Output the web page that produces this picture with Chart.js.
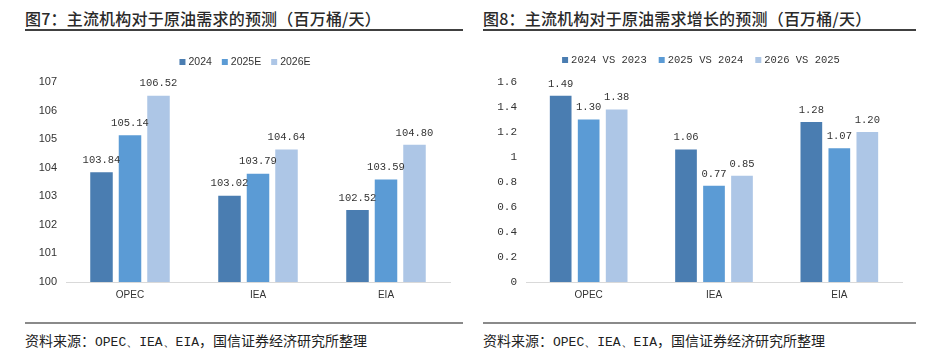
<!DOCTYPE html>
<html><head><meta charset="utf-8">
<script src="https://cdn.jsdelivr.net/npm/chart.js@4.4.1/dist/chart.umd.min.js"></script>
<style>
html,body{margin:0;padding:0;background:#fff;width:940px;height:354px;overflow:hidden;}
.title{position:absolute;top:6px;font-family:"Noto Sans CJK SC";font-weight:500;font-size:16px;color:#2a2a2a;white-space:nowrap;letter-spacing:0.2px;}
.rule{position:absolute;height:2px;background:#404040;top:29px;}
.rule2{position:absolute;height:2px;background:#8a8a8a;top:322px;}
.src{position:absolute;top:330px;font-family:"Noto Sans CJK SC";font-size:14px;color:#222;white-space:nowrap;}
.src .m{font-family:"Liberation Mono";font-size:13px;}
.wrap{position:absolute;top:38px;height:262px;}
</style></head><body>
<div class="title" style="left:25px">图7：主流机构对于原油需求的预测（百万桶/天）</div>
<div class="rule" style="left:25px;width:438px"></div>
<div class="title" style="left:483px">图8：主流机构对于原油需求增长的预测（百万桶/天）</div>
<div class="rule" style="left:483px;width:433px"></div>
<div class="wrap" style="left:25px;width:438px"><canvas id="c1" width="438" height="262"></canvas></div>
<div class="wrap" style="left:483px;width:433px"><canvas id="c2" width="433" height="262"></canvas></div>
<div class="rule2" style="left:25px;width:438px"></div>
<div class="rule2" style="left:483px;width:433px"></div>
<div class="src" style="left:25px">资料来源：<span class="m">OPEC、IEA、EIA</span>，国信证券经济研究所整理</div>
<div class="src" style="left:483px">资料来源：<span class="m">OPEC、IEA、EIA</span>，国信证券经济研究所整理</div>
<script>
const categories = ["OPEC", "IEA", "EIA"];
const seriesNames1 = ["2024", "2025E", "2026E"];
const demand2024 = [103.84, 103.02, 102.52];
const demand2025 = [105.14, 103.79, 103.59];
const demand2026 = [106.52, 104.64, 104.80];
const yTicks1 = [100, 101, 102, 103, 104, 105, 106, 107];

const seriesNames2 = ["2024 VS 2023", "2025 VS 2024", "2026 VS 2025"];
const growth2024 = [1.49, 1.06, 1.28];
const growth2025 = [1.30, 0.77, 1.07];
const growth2026 = [1.38, 0.85, 1.20];
const yTicks2 = [0, 0.2, 0.4, 0.6, 0.8, 1, 1.2, 1.4, 1.6];

const colors = ["#4a7db1", "#5b9bd5", "#adc6e6"];

const labelPlugin = {
  id: 'vlabels',
  afterDatasetsDraw(chart) {
    const ctx = chart.ctx;
    ctx.save();
    ctx.font = '10.5px "Liberation Mono"';
    ctx.fillStyle = '#333';
    ctx.textAlign = 'center';
    ctx.textBaseline = 'middle';
    chart.data.datasets.forEach((ds, i) => {
      chart.getDatasetMeta(i).data.forEach((bar, j) => {
        ctx.fillText(ds.data[j].toFixed(2), bar.x, bar.y - 12);
      });
    });
    ctx.restore();
  }
};

function legendPlugin(cx, cy, font, gap) {
  return {
    id: 'mylegend',
    afterDraw(chart) {
      const ctx = chart.ctx;
      ctx.save();
      ctx.font = font;
      ctx.textBaseline = 'middle';
      const items = chart.data.datasets.map(d => ({t: d.label, c: d.backgroundColor, w: ctx.measureText(d.label).width}));
      const box = 6, sp = 3;
      let total = items.reduce((a, it) => a + box + sp + it.w, 0) + gap * (items.length - 1);
      let x = cx - total / 2;
      items.forEach(it => {
        ctx.fillStyle = it.c;
        ctx.fillRect(x, cy - 3, box, box);
        x += box + sp;
        ctx.fillStyle = '#333';
        ctx.fillText(it.t, x, cy + 0.5);
        x += it.w + gap;
      });
      ctx.restore();
    }
  };
}

function makeChart(id, names, series, yMin, yMax, step, ticksFont, yWidth, padR, legend, cp, bp) {
  return new Chart(document.getElementById(id), {
    type: 'bar',
    data: {
      labels: categories,
      datasets: series.map((s, i) => ({
        label: names[i], data: s, backgroundColor: colors[i],
        categoryPercentage: cp, barPercentage: bp
      }))
    },
    options: {
      responsive: false, animation: false,
      layout: {padding: {top: 44, right: padR, bottom: 0, left: 0}},
      plugins: {legend: {display: false}, tooltip: {enabled: false}},
      scales: {
        x: {
          grid: {display: false, drawTicks: false},
          border: {color: '#d9d9d9', width: 1},
          ticks: {font: {family: '"Liberation Sans Narrow", "Liberation Sans"', size: 10}, color: '#333', padding: 7},
          afterFit: s => { s.height = 18; }
        },
        y: {
          min: yMin, max: yMax,
          grid: {display: false, drawTicks: false},
          border: {display: false},
          ticks: {stepSize: step, font: ticksFont, color: '#333', padding: 9,
            callback: v => String(Math.round(v * 10) / 10)},
          afterFit: s => { s.width = yWidth; }
        }
      }
    },
    plugins: [labelPlugin, legend]
  });
}

makeChart('c1', seriesNames1, [demand2024, demand2025, demand2026], yTicks1[0], yTicks1[yTicks1.length - 1], 1,
  {family: '"Liberation Sans"', size: 11}, 41, 13,
  legendPlugin(220, 24, '10.5px "Liberation Sans"', 10), 0.668, 0.79);

makeChart('c2', seriesNames2, [growth2024, growth2025, growth2026], yTicks2[0], yTicks2[yTicks2.length - 1], 0.2,
  {family: '"Liberation Mono"', size: 11}, 43, 14,
  legendPlugin(218, 22, '10.5px "Liberation Mono"', 12), 0.67, 0.775);
</script>
</body></html>
